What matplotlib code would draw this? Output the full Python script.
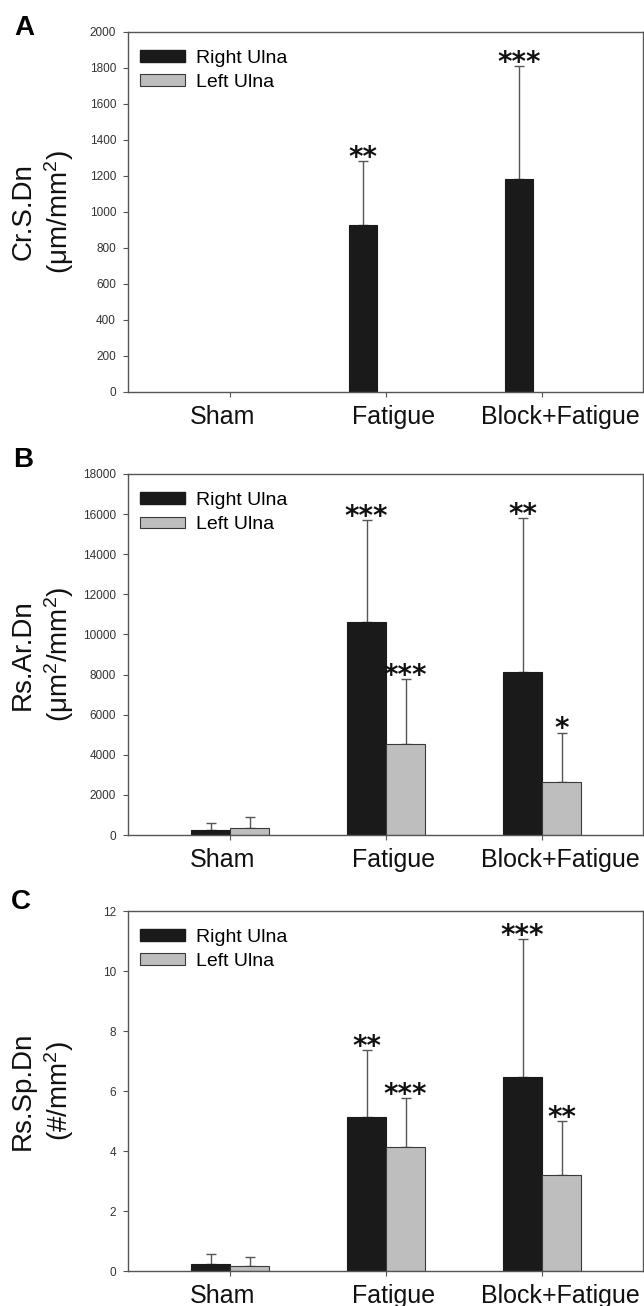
import numpy as np
import matplotlib.pyplot as plt
from matplotlib.patches import Patch

plt.rcParams['font.family'] = ['Liberation Sans', 'DejaVu Sans']
plt.rcParams['mathtext.fontset'] = 'custom'
plt.rcParams['mathtext.rm'] = 'Liberation Sans'
plt.rcParams['mathtext.it'] = 'Liberation Sans:italic'

groups = ['Sham', 'Fatigue', 'Block+Fatigue']
series = ['Right Ulna', 'Left Ulna']

# panel A: Cr.S.Dn (left ulna has no cracks)
crsdn_right = [0, 928, 1181]
crsdn_right_top = [0, 1285, 1813]
crsdn_left = [0, 0, 0]
crsdn_left_top = [0, 0, 0]
crsdn_stars = [(1, 0, '**'), (2, 0, '***')]

# panel B: Rs.Ar.Dn
rsardn_right = [250, 10614, 8135]
rsardn_right_top = [582, 15721, 15821]
rsardn_left = [333, 4542, 2662]
rsardn_left_top = [882, 7786, 5107]
rsardn_stars = [(1, 0, '***'), (1, 1, '***'), (2, 0, '**'), (2, 1, '*')]

# panel C: Rs.Sp.Dn
rsspdn_right = [0.22, 5.14, 6.46]
rsspdn_right_top = [0.555, 7.36, 11.06]
rsspdn_left = [0.18, 4.12, 3.20]
rsspdn_left_top = [0.48, 5.77, 5.0]
rsspdn_stars = [(1, 0, '**'), (1, 1, '***'), (2, 0, '***'), (2, 1, '**')]

black = '#1a1a1a'
gray = '#bebebe'
line = '#555555'

fig = plt.figure(figsize=(6.44, 13.06), dpi=100)


def panel(rect, right, right_top, left, left_top, stars, ymax, ystep, ylabel,
          letter, letter_xy, offset=0.125, width=0.25):
    ax = fig.add_axes(rect)
    x = np.arange(len(groups))
    pos = [x - offset, x + offset]
    vals = [right, left]
    tops = [right_top, left_top]
    colors = [black, gray]
    edges = [black, '#3a3a3a']
    for i in range(2):
        v = np.array(vals[i], float)
        t = np.array(tops[i], float)
        keep = (v > 0) | (t > 0)
        if not keep.any():
            continue
        ax.bar(pos[i][keep], v[keep], width, color=colors[i], edgecolor=edges[i],
               linewidth=0.8, zorder=2)
        ax.errorbar(pos[i][keep], v[keep], yerr=[np.zeros(keep.sum()), t[keep] - v[keep]],
                    fmt='none', ecolor=line, elinewidth=1, capsize=3.5, capthick=1, zorder=1)
    for g, s, txt in stars:
        ax.annotate(txt, (pos[s][g], tops[s][g]), xytext=(0, -3.5), textcoords='offset points',
                    ha='center', va='baseline', fontsize=20, family='DejaVu Sans',
                    fontweight='bold', color='#111111')
    ax.set_xlim(-0.654, 2.646)
    ax.set_ylim(0, ymax)
    ax.set_yticks(np.arange(0, ymax + ystep / 2, ystep))
    ax.set_xticks(x)
    ax.set_xticklabels([])
    # group names sit slightly off their ticks in the original
    for xi, name, dx in zip(x, groups, [-0.05, 0.045, 0.115]):
        ax.text(xi + dx, -0.035, name, transform=ax.get_xaxis_transform(),
                ha='center', va='top', fontsize=18, color='#111111')
    ax.tick_params(axis='y', direction='out', length=3.6, width=0.8, color=line,
                   labelsize=8.5, labelcolor='#333333', pad=5)
    ax.tick_params(axis='x', direction='out', length=3.6, width=0.8, color=line)
    for sp in ax.spines.values():
        sp.set_color(line)
        sp.set_linewidth(1)
    ax.set_ylabel(ylabel, fontsize=20, linespacing=1.25, color='#111111')
    ax.yaxis.set_label_coords(-0.10, 0.5)
    handles = [Patch(facecolor=black, edgecolor=black),
               Patch(facecolor=gray, edgecolor='#3a3a3a', linewidth=0.8)]
    ax.legend(handles, series, loc='upper left', bbox_to_anchor=(0.0155, 0.962),
              frameon=False, fontsize=14, handlelength=2.3, handleheight=0.57,
              labelspacing=0.4, handletextpad=0.6, borderpad=0.2, borderaxespad=0)
    fig.text(letter_xy[0] / 644, 1 - letter_xy[1] / 1306, letter, fontsize=20,
             fontweight='bold', ha='left', va='top')
    return ax


left = 128 / 644
w = (643 - 128) / 644
panel([left, 1 - 392 / 1306, w, 360 / 1306], crsdn_right, crsdn_right_top,
      crsdn_left, crsdn_left_top, crsdn_stars, 2000, 200,
      'Cr.S.Dn\n(\u03bcm/mm$^2$)', 'A', (14, 15), offset=0.15, width=0.18)
panel([left, 1 - 835 / 1306, w, 361 / 1306], rsardn_right, rsardn_right_top,
      rsardn_left, rsardn_left_top, rsardn_stars, 18000, 2000,
      'Rs.Ar.Dn\n(\u03bcm$^2$/mm$^2$)', 'B', (13, 447))
panel([left, 1 - 1271 / 1306, w, 360 / 1306], rsspdn_right, rsspdn_right_top,
      rsspdn_left, rsspdn_left_top, rsspdn_stars, 12, 2,
      'Rs.Sp.Dn\n(#/mm$^2$)', 'C', (11, 889))

fig.savefig('out.png', dpi=100)
